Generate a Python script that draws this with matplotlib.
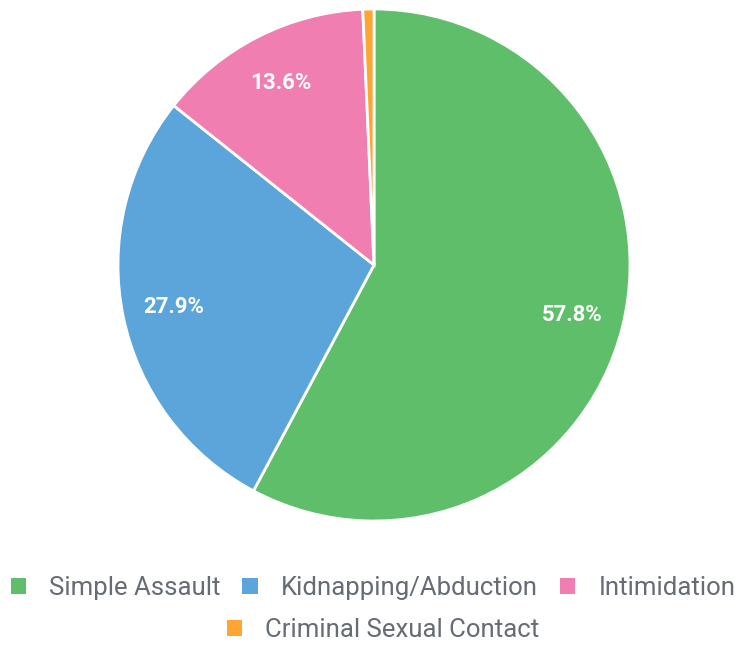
import matplotlib
matplotlib.use("Agg")
import matplotlib.pyplot as plt
from matplotlib.patches import Patch

categories = ["Simple Assault", "Kidnapping/Abduction", "Intimidation", "Criminal Sexual Contact"]
values = [57.8, 27.9, 13.6, 0.7]
colors = ["#5fbe6a", "#5ca5db", "#f07eb0", "#ffa533"]

plt.rcParams['font.family'] = ['Roboto', 'DejaVu Sans']

W, H = 742, 646
fig = plt.figure(figsize=(W / 100, H / 100), dpi=100)
ax = fig.add_axes([118 / W, 125 / H, 512 / W, 512 / H])

def fmt(p):
    return f"{p:.1f}%" if p > 5 else ""

wedges, texts, autotexts = ax.pie(
    values, colors=colors, startangle=90, counterclock=False,
    autopct=fmt, pctdistance=0.8,
    wedgeprops=dict(edgecolor="white", linewidth=2),
    textprops=dict(color="white", fontsize=16, fontweight="bold"),
)
ax.set_xlim(-1.0, 1.0)
ax.set_ylim(-1.0, 1.0)
ax.set_aspect("equal")
ax.axis("off")

handles = [Patch(facecolor=c, edgecolor="none") for c in colors]
leg_kw = dict(frameon=False, fontsize=18.5, handlelength=0.6, handleheight=0.6,
              handletextpad=0.9, columnspacing=0.85, labelcolor="#666c75")
fig.legend(handles[:3], categories[:3], loc="center", ncol=3,
           bbox_to_anchor=(0.5 + 2 / W, 1 - 588 / H), **leg_kw)
fig.legend(handles[3:], categories[3:], loc="center", ncol=1,
           bbox_to_anchor=(0.5 + 12 / W, 1 - 630 / H), **leg_kw)

fig.savefig("out.png", dpi=100)
